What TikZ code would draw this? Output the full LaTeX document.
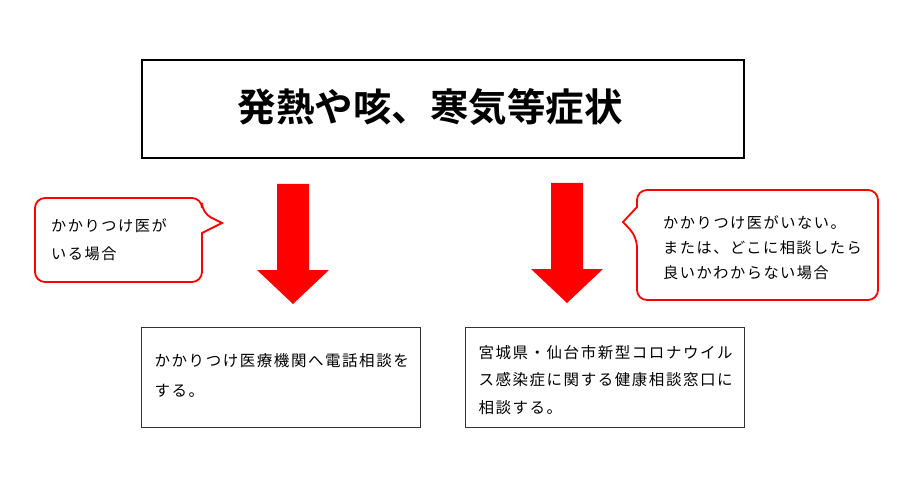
\documentclass[tikz,border=0pt]{standalone}
\usepackage{fontspec}
\newfontfamily\jp[LetterSpace=10]{Noto Sans CJK JP}
\newfontfamily\jptitle{Noto Sans CJK JP Bold}
\usetikzlibrary{positioning}

\begin{document}
\begin{tikzpicture}[x=1pt,y=-1pt,
    topbox/.style={draw, line width=1.5pt, minimum width=602pt, minimum height=98pt},
    title/.style={font=\jptitle\fontsize{38.5}{44}\selectfont},
    infobox/.style={draw=black!80, line width=1pt, minimum width=279pt, minimum height=100pt},
    boxtxt/.style={text width=252pt, align=left, inner sep=0pt},
    bubble/.style={draw=red, line width=1.8pt, fill=white},
    bubbletxt/.style={align=left, anchor=west, inner sep=0pt}]
    \useasboundingbox (0,0) rectangle (900,500);
		    \node[topbox, label={[title, xshift=-13pt, yshift=2pt]center:発熱や咳、寒気等症状}] (symptom) at (443,109) {};
    % red arrows
    \foreach \x/\y in {293/184, 567/183}
        \fill[red] (\x-16,\y) -- (\x+16,\y) -- (\x+16,\y+86) -- (\x+36,\y+86) -- (\x,\y+120) -- (\x-36,\y+86) -- (\x-16,\y+86) -- cycle;
    % callouts
    \draw[bubble] (222,223) -- (202,233) [rounded corners=10pt] |- (35,282) |- (202,198) -- (202,213) [sharp corners] -- cycle;
    \draw[bubble] (623,222) -- (637,207) [rounded corners=10pt] |- (878,190) |- (637,300) -- (637,237) [sharp corners] -- cycle;
		    \node[bubbletxt, font=\jp\fontsize{15.2}{28}\selectfont] (withdoc) at (51,240) {かかりつけ医が\\いる場合};
		    \node[bubbletxt, font=\jp\fontsize{15.2}{25}\selectfont] (nodoc) at (663,248) {かかりつけ医がいない。\\または、どこに相談したら\\良いかわからない場合};
    % destinations
		    \node[infobox, label={[boxtxt, yshift=1.5pt, font=\jp\fontsize{15.5}{30}\selectfont]center:かかりつけ医療機関へ電話相談を\\する。}] (clinic) at (280.5,377) {};
		    \node[infobox, label={[boxtxt, yshift=-3pt, font=\jp\fontsize{15.5}{27.5}\selectfont]center:宮城県・仙台市新型コロナウイル\\ス感染症に関する健康相談窓口に\\相談する。}] (center) at (604.5,377) {};
\end{tikzpicture}
\end{document}
